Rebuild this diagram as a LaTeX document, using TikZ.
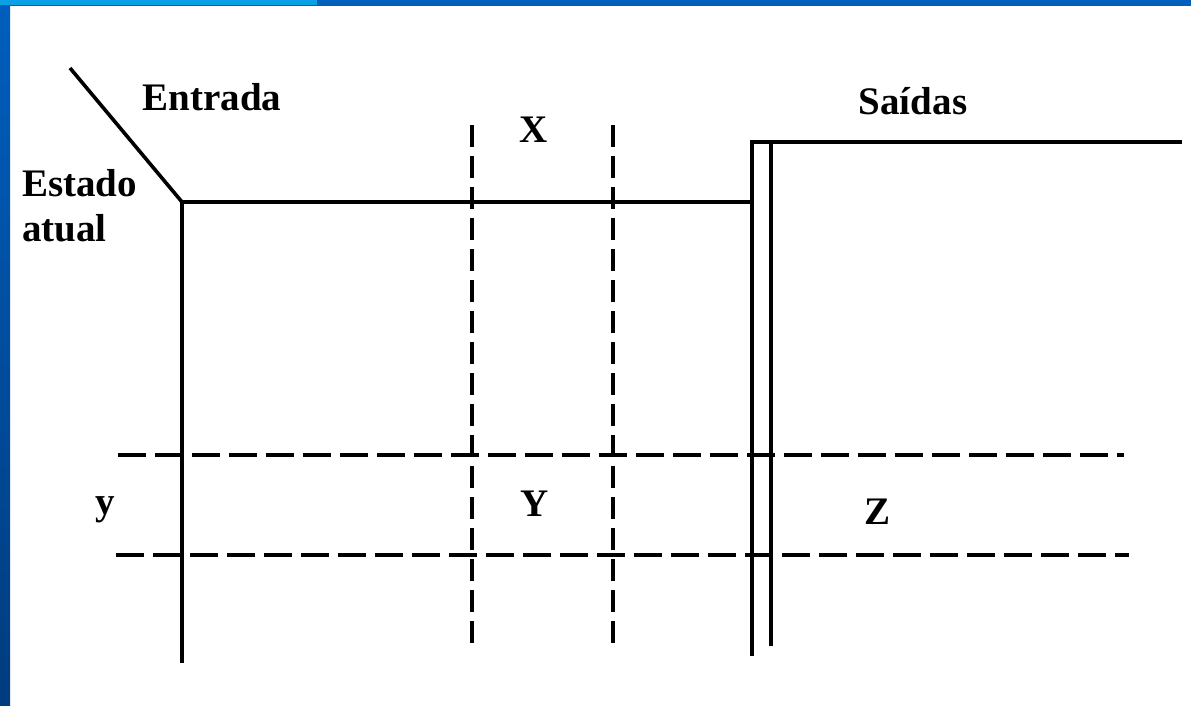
\documentclass[tikz,border=0pt]{standalone}
\usepackage{fontspec}
\setmainfont{Liberation Serif}
\definecolor{barblue}{HTML}{005EBD}
\definecolor{barlight}{HTML}{0AA0E6}
\definecolor{bardark}{HTML}{003C7E}
\begin{document}
\begin{tikzpicture}[x=1pt,y=-1pt,
  solidline/.style={line width=3.6pt, black},
  hdash/.style={line width=3.6pt, black, dash pattern=on 28pt off 9pt},
  vdash/.style={line width=3.2pt, black, dash pattern=on 22pt off 9pt},
  lbl/.style={font=\fontsize{39}{42}\selectfont\bfseries, inner sep=0pt}]
\useasboundingbox (0,0) rectangle (1191,705);
\fill[white] (0,0) rectangle (1191,705);
% frame strips
\shade[top color=barblue, bottom color=bardark] (0,0) rectangle (10,705);
\fill[barblue] (0,0) rectangle (1191,6);
\fill[barlight] (0,0) rectangle (317,5);
% coordinates
\coordinate (d0) at (70,68);
\coordinate (c) at (182,202);
\coordinate (tr) at (752,202);
\coordinate (lb) at (182,663);
\coordinate (o1) at (752,142);
\coordinate (o1b) at (752,656);
\coordinate (o2) at (771,142);
\coordinate (o2b) at (771,646);
\coordinate (oe) at (1182,142);
\coordinate (x1t) at (472,125);
\coordinate (x1b) at (472,650);
\coordinate (x2t) at (613,125);
\coordinate (x2b) at (613,648);
\coordinate (h1a) at (118,455);
\coordinate (h1b) at (1124,455);
\coordinate (h2a) at (116,555);
\coordinate (h2b) at (1129,555);
% solid lines
\draw[solidline, line join=miter] (d0) -- (c) -- (tr);
\draw[solidline] (c) -- (lb);
\draw[solidline, line join=miter] (o1b) -- (o1) -- (oe);
\draw[solidline] (o2) -- (o2b);
% dashed lines
\draw[vdash] (x1t) -- (x1b);
\draw[vdash] (x2t) -- (x2b);
\draw[hdash] (h1a) -- (h1b);
\draw[hdash] (h2a) -- (h2b);
% labels
\node[lbl] (entrada) at (212,97) {Entrada};
\node[lbl, anchor=west] (estado) at (22,183) {Estado};
\node[lbl, anchor=west] (atual) at (22,228) {atual};
\node[lbl] (X) at (534,130) {X};
\node[lbl] (saidas) at (913,101) {Saídas};
\node[lbl] (ys) at (105,510) {y};
\node[lbl] (Y) at (535,504) {Y};
\node[lbl] (Z) at (877,512) {Z};
\end{tikzpicture}
\end{document}
